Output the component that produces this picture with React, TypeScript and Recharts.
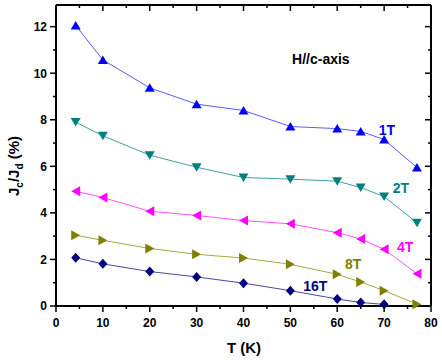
import { LineChart, Line, XAxis, YAxis, ReferenceDot } from 'recharts'

const T_VALUES = [4.2, 10, 20, 30, 40, 50, 60, 65, 70, 77]
const JC_1T = [12.05, 10.57, 9.37, 8.67, 8.4, 7.71, 7.62, 7.5, 7.15, 5.95]
const JC_2T = [7.9, 7.31, 6.48, 5.96, 5.52, 5.45, 5.36, 5.09, 4.7, 3.58]
const JC_4T = [4.93, 4.66, 4.07, 3.89, 3.67, 3.53, 3.15, 2.88, 2.44, 1.38]
const JC_8T = [3.04, 2.82, 2.47, 2.22, 2.06, 1.79, 1.36, 1.03, 0.66, 0.08]
const JC_16T = [2.07, 1.81, 1.48, 1.25, 0.98, 0.66, 0.3, 0.15, 0.07]

const X_TICKS = [0, 5, 10, 15, 20, 25, 30, 35, 40, 45, 50, 55, 60, 65, 70, 75, 80]
const Y_TICKS = [0, 1, 2, 3, 4, 5, 6, 7, 8, 9, 10, 11, 12]

const FONT = '"Liberation Sans", Arial, sans-serif'

type Shape = 'up' | 'down' | 'left' | 'right' | 'diamond'

const SERIES: { name: string; values: number[]; marker: string; line: string; shape: Shape; lx: number; ly: number }[] = [
  { name: '1T', values: JC_1T, marker: '#0000ff', line: '#5a5aff', shape: 'up', lx: 70.6, ly: 7.56 },
  { name: '2T', values: JC_2T, marker: '#008080', line: '#40a0a0', shape: 'down', lx: 73.6, ly: 5.07 },
  { name: '4T', values: JC_4T, marker: '#ff00ff', line: '#ff50ff', shape: 'left', lx: 74.5, ly: 2.53 },
  { name: '8T', values: JC_8T, marker: '#808000', line: '#a8a840', shape: 'right', lx: 63.4, ly: 1.8 },
  { name: '16T', values: JC_16T, marker: '#000080', line: '#4848a0', shape: 'diamond', lx: 55.3, ly: 0.86 },
]

function markerPoints(shape: Shape, cx: number, cy: number) {
  switch (shape) {
    case 'up':
      return `${cx},${cy - 4.5} ${cx + 5},${cy + 4} ${cx - 5},${cy + 4}`
    case 'down':
      return `${cx},${cy + 4.5} ${cx + 5},${cy - 4} ${cx - 5},${cy - 4}`
    case 'left':
      return `${cx - 4.5},${cy} ${cx + 4.5},${cy - 5} ${cx + 4.5},${cy + 5}`
    case 'right':
      return `${cx + 4.5},${cy} ${cx - 4.5},${cy - 5} ${cx - 4.5},${cy + 5}`
    default:
      return `${cx},${cy - 5} ${cx + 4.5},${cy} ${cx},${cy + 5} ${cx - 4.5},${cy}`
  }
}

const makeDot = (shape: Shape, fill: string) => (p: any) => (
  <polygon key={`d-${p.index}`} points={markerPoints(shape, p.cx, p.cy)} fill={fill} />
)

const textStyle = { fontFamily: FONT, fontWeight: 700 }

function BottomTick({ x, y, payload }: any) {
  const major = payload.value % 10 === 0
  return (
    <g>
      <line x1={x} y1={y} x2={x} y2={y + (major ? 6 : 3)} stroke="#000" strokeWidth={1.5} />
      {major && (
        <text x={x} y={y + 21} textAnchor="middle" fontSize={12} fill="#000" style={textStyle}>
          {payload.value}
        </text>
      )}
    </g>
  )
}

function TopTick({ x, y, payload }: any) {
  const major = payload.value % 10 === 0
  return <line x1={x} y1={y} x2={x} y2={y + (major ? 6 : 3)} stroke="#000" strokeWidth={1.5} />
}

function LeftTick({ x, y, payload }: any) {
  const major = payload.value % 2 === 0
  return (
    <g>
      <line x1={x} y1={y} x2={x - (major ? 6 : 3)} y2={y} stroke="#000" strokeWidth={1.5} />
      {major && (
        <text x={x - 9} y={y + 4.3} textAnchor="end" fontSize={12} fill="#000" style={textStyle}>
          {payload.value}
        </text>
      )}
    </g>
  )
}

function RightTick({ x, y, payload }: any) {
  const major = payload.value % 2 === 0
  return <line x1={x} y1={y} x2={x - (major ? 6 : 3)} y2={y} stroke="#000" strokeWidth={1.5} />
}

function YTitle() {
  return (
    <text transform="translate(19,166) rotate(-90)" textAnchor="middle" fontSize={15} fill="#000" style={textStyle}>
      J<tspan fontSize={10} dy={4}>c</tspan>
      <tspan dy={-4}>/J</tspan>
      <tspan fontSize={10} dy={4}>d</tspan>
      <tspan dy={-4}> (%)</tspan>
    </text>
  )
}

function XTitle() {
  return (
    <text x={244} y={353} textAnchor="middle" fontSize={15} fill="#000" style={textStyle}>
      T (K)
    </text>
  )
}

export default function App() {
  const frameData = T_VALUES.map((t, i) => ({ t, j: JC_1T[i] }))
  return (
    <div style={{ position: 'absolute', left: 0, top: 0, width: 442, height: 360, background: '#fff' }}>
      <LineChart width={442} height={360} margin={{ top: 4, right: 0, bottom: 0, left: 0 }}>
        <XAxis
          xAxisId={0}
          type="number"
          dataKey="t"
          domain={[0, 80]}
          ticks={X_TICKS}
          interval={0}
          height={54}
          tickSize={0}
          tickMargin={0}
          tick={<BottomTick />}
          axisLine={{ stroke: '#000', strokeWidth: 2 }}
          label={<XTitle />}
        />
        <XAxis
          xAxisId="top"
          orientation="top"
          type="number"
          dataKey="t"
          domain={[0, 80]}
          ticks={X_TICKS}
          interval={0}
          height={1}
          tickSize={0}
          tickMargin={0}
          tick={<TopTick />}
          axisLine={{ stroke: '#000', strokeWidth: 2 }}
        />
        <YAxis
          yAxisId={0}
          type="number"
          domain={[0, 12.93]}
          ticks={Y_TICKS}
          interval={0}
          width={56}
          tickSize={0}
          tickMargin={0}
          tick={<LeftTick />}
          axisLine={{ stroke: '#000', strokeWidth: 2 }}
          label={<YTitle />}
        />
        <YAxis
          yAxisId="right"
          orientation="right"
          type="number"
          domain={[0, 12.93]}
          ticks={Y_TICKS}
          interval={0}
          width={11}
          tickSize={0}
          tickMargin={0}
          tick={<RightTick />}
          axisLine={{ stroke: '#000', strokeWidth: 2 }}
        />
        {/* invisible series so the top / right frame axes get drawn */}
        <Line
          xAxisId="top"
          yAxisId="right"
          data={frameData}
          dataKey="j"
          stroke="none"
          dot={false}
          activeDot={false}
          legendType="none"
          isAnimationActive={false}
        />
        {SERIES.map((s) => (
          <Line
            key={s.name}
            data={s.values.map((v, i) => ({ t: T_VALUES[i], j: v }))}
            dataKey="j"
            type="linear"
            stroke={s.line}
            strokeWidth={1}
            dot={makeDot(s.shape, s.marker)}
            activeDot={false}
            isAnimationActive={false}
          />
        ))}
        {SERIES.map((s) => (
          <ReferenceDot
            key={`lbl-${s.name}`}
            x={s.lx}
            y={s.ly}
            r={1}
            shape={(p: any) => (
              <text x={p.cx} y={p.cy + 5} textAnchor="middle" fontSize={14} fill={s.marker} style={textStyle}>
                {s.name}
              </text>
            )}
          />
        ))}
        <ReferenceDot
          x={56.5}
          y={10.61}
          r={1}
          shape={(p: any) => (
            <text x={p.cx} y={p.cy + 5} textAnchor="middle" fontSize={14} fill="#000" style={textStyle}>
              H//c-axis
            </text>
          )}
        />
      </LineChart>
    </div>
  )
}
